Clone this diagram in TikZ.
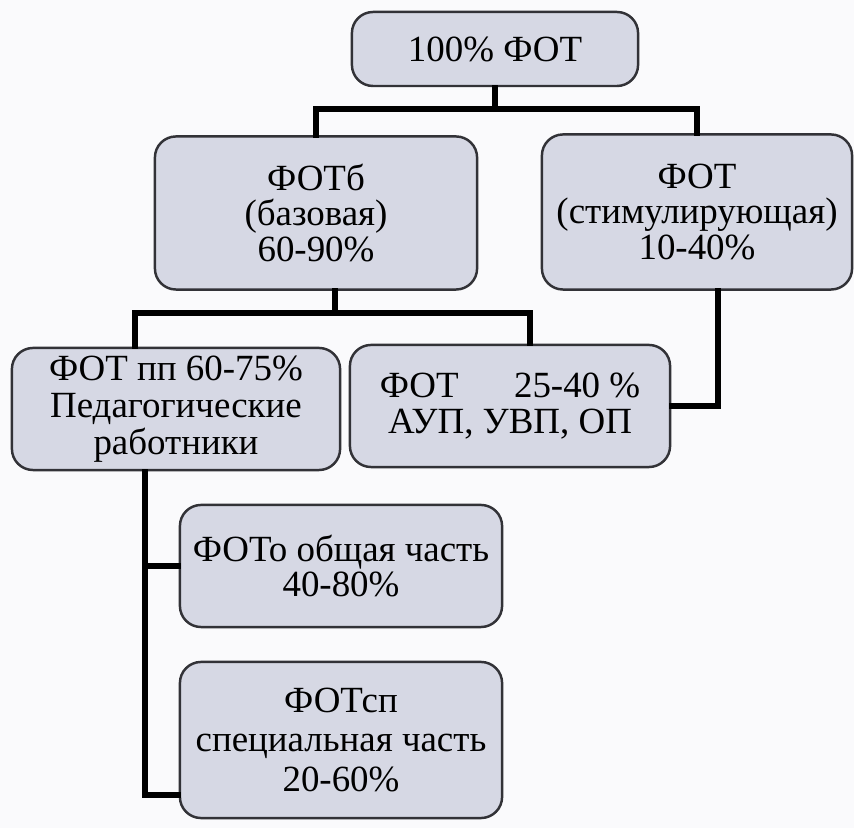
\documentclass[tikz,border=0pt]{standalone}
\usepackage{fontspec}
\setmainfont{Liberation Serif}
\usetikzlibrary{positioning}

\definecolor{boxfill}{RGB}{214,216,228}
\definecolor{boxline}{RGB}{50,50,55}
\definecolor{paper}{RGB}{250,250,252}

\begin{document}
\begin{tikzpicture}[
    x=0.01cm, y=-0.01cm,
    box/.style={draw=boxline, line width=0.7pt, fill=boxfill, rounded corners=6pt,
                align=center, inner sep=2pt},
    conn/.style={line width=1.5pt, line cap=rect},
    font=\fontsize{10.5}{10}\selectfont
]
    \fill[paper] (0,0) rectangle (854,828);
    \useasboundingbox (0,0) rectangle (854,828);

    % boxes
    \node[box, minimum width=2.86cm, minimum height=0.74cm] (top) at (495,49) {100\% ФОТ};
    \node[box, minimum width=3.22cm, minimum height=1.53cm] (base) at (316,213) {ФОТб\\(базовая)\\60-90\%};
    \node[box, minimum width=3.10cm, minimum height=1.55cm] (stim) at (697,212) {ФОТ\\(стимулирующая)\\10-40\%};
    \node[box, minimum width=3.28cm, minimum height=1.22cm, font=\fontsize{10.5}{10.6}\selectfont] (pp) at (176,409) {ФОТ пп 60-75\%\\Педагогические\\работники};
    \node[box, minimum width=3.20cm, minimum height=1.22cm] (aup) at (510,406) {ФОТ\quad\ \ 25-40 \%\\АУП, УВП, ОП};
    \node[box, minimum width=3.22cm, minimum height=1.22cm] (obsh) at (341,566) {ФОТо общая часть\\40-80\%};
    \node[box, minimum width=3.22cm, minimum height=1.56cm, font=\fontsize{10.5}{11.2}\selectfont] (sp) at (341,740) {ФОТсп\\специальная часть\\20-60\%};

    % junctions
    \coordinate (j1) at (500,109);
    \coordinate (j2) at (335,313);
    \coordinate (j3) at (135,313);
    \coordinate (j4) at (530,313);
    \coordinate (j5) at (718,0);
    \coordinate (j6) at (145,795);

    % --- top level ---
    \draw[conn] (top.south) -- (top.south |- j1);
    \draw[conn] (base.north) |- (j1) -| (stim.north);

    % --- base part ---
    \draw[conn] (base.south -| j2) -- (j2);
    \draw[conn] (j3 |- pp.north) -- (j3) -- (j4) -- (j4 |- aup.north);
    \draw[conn] (stim.south -| j5) |- (aup.east);

    % --- teachers ---
    \draw[conn] (pp.south -| j6) -- (j6) -- (j6 -| sp.west);
    \draw[conn] (j6 |- obsh.west) -- (obsh.west);
\end{tikzpicture}
\end{document}
